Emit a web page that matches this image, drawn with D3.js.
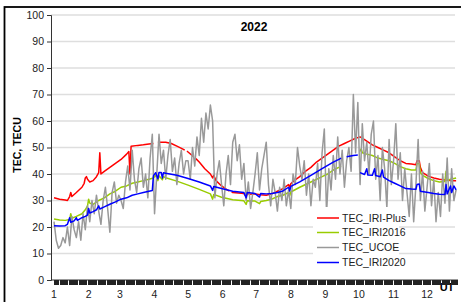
<!DOCTYPE html>
<html>
<head>
<meta charset="utf-8">
<script src="https://cdn.jsdelivr.net/npm/d3@7"></script>
<style>
body { margin: 0; background: #fff; }
svg { display: block; font-family: "Liberation Sans", Arial, sans-serif; }
</style>
</head>
<body>
<div id="chart"></div>
<script>
//Datos (dia del año, TECU)
const yTicks = [0, 10, 20, 30, 40, 50, 60, 70, 80, 90, 100];
const monthStarts = [0, 31, 59, 90, 120, 151, 181, 212, 243, 273, 304, 334];
const monthLabels = ['1', '2', '3', '4', '5', '6', '7', '8', '9', '10', '11', '12'];

const tecIriPlus = [[0,31],[5,30.5],[10,30.2],[12,30],[14,31.5],[15,33],[16,31.5],[20,33],[25,35],[27,36.5],[28,38.5],[29,39],[30,38],[32,37],[35,37.5],[38,39],[40,40.5],[41,48],[42,40],[45,41],[50,42.5],[55,44],[60,45.5],[65,47.5],[67,48.5],[68,40],[69,50.5],[75,50.8],[80,51],[85,51.3],[89,51.5],[90,null],[93,52],[100,52],[105,51.5],[110,50.5],[115,49.5],[117,49],[118,null],[119,48.6],[120,48.3],[125,46.5],[126,null],[127,45.8],[130,44.5],[135,42],[140,40],[142,38.5],[143,39.5],[145,37.5],[150,35.5],[155,34],[157,33.6],[158,null],[159,33.3],[160,33],[165,32.8],[170,32.6],[172,31.5],[173,32.6],[175,32.4],[180,32.5],[185,32.2],[190,32],[195,32.5],[200,33.5],[205,34.5],[210,36],[211,35],[212,36.3],[215,37.5],[220,39],[225,41],[230,42.5],[235,44.5],[240,46],[245,47.5],[250,49],[255,50.5],[260,51.5],[265,52.5],[270,53.5],[274,54],[278,53],[285,51],[290,50],[295,49],[300,48],[305,46.5],[310,45],[315,44],[320,43.8],[324,43.5],[325,45],[327,45],[328,42.5],[330,40.5],[335,39.2],[340,38.5],[345,38],[350,37.7],[355,37.5],[360,37.5]];

const tecIri2016 = [[0,23],[5,22.6],[10,22.5],[14,22.8],[15,25],[16,23.3],[20,24],[25,25],[28,26.5],[30,28],[31,30.5],[32,29],[35,28.5],[40,30],[45,31],[50,32.5],[55,33.5],[60,35],[65,35.5],[70,36.5],[75,37],[80,37.5],[85,38],[89,38.5],[91,39.5],[93,37.5],[94,39.3],[97,37.8],[98,39],[100,38.6],[110,37.3],[120,35.8],[130,34.2],[140,32.5],[142,30.5],[143,32.3],[150,31.2],[160,30.3],[170,29.9],[172,28.5],[173,29.9],[180,29.8],[184,28.8],[185,29.6],[190,30],[195,30.5],[200,31.5],[205,32],[210,33],[211,31.8],[212,33.2],[220,35],[230,37],[240,39],[245,40],[250,41.5],[255,42.5],[257,43],[258,null],[274,48.5],[275,49.5],[276,48],[280,47.5],[285,47],[290,46],[295,45.5],[300,45],[305,44],[310,42.8],[315,42],[320,41.5],[324,41.5],[325,44],[327,44],[328,40.5],[330,39.5],[335,38.3],[340,37.5],[345,37],[350,37.2],[351,41],[352,37.5],[355,38],[360,38.5]];

const tecIri2020 = [[0,20.5],[5,20.4],[10,20.5],[12,21],[14,23.5],[15,21.8],[18,22.3],[20,23.5],[21,22.5],[25,23.5],[28,24],[30,24.5],[31,27],[32,25.3],[35,25.8],[38,26.5],[40,28],[41,26.8],[45,27.6],[50,28.6],[55,29.5],[60,30.5],[65,31],[70,32],[75,32.5],[80,33],[85,33.5],[88,33.8],[89,39.3],[91,40.5],[93,38.2],[94,40.6],[96,40.6],[97,38.5],[98,40.5],[100,40.3],[110,39.5],[120,38.3],[130,37],[140,35.5],[142,33.8],[143,35.3],[150,34.5],[160,33.5],[170,33],[172,31],[173,33],[180,32.6],[184,31.3],[185,32.6],[190,32.5],[195,32.6],[200,33],[205,33.6],[210,35],[211,33.6],[212,35.3],[220,37],[230,39.5],[240,42],[250,44.5],[255,45.5],[257,46],[258,null],[262,46.5],[268,47],[272,47.2],[273,null],[274,40.5],[278,39.8],[280,42],[281,39.6],[285,39.5],[287,42],[288,39.4],[292,39],[294,41.5],[295,38.8],[300,37.5],[305,36.5],[310,35.5],[315,34.5],[320,34.3],[324,34.2],[325,36],[327,36.2],[328,33.5],[335,33],[340,32.6],[345,32.4],[350,32.3],[351,36],[352,32.5],[355,35.5],[356,33],[358,35.5],[360,34]];

//TEC_UCOE, un valor cada 2 dias desde el 1 de enero
const tecUcoe = [
  22,15,12,13,16,14,20,13,24,19,16,22,15,25,19,28,
  22,30,25,32,26,21,30,35,27,18,33,37,29,32,
  30,27,37,43,34,49,38,33,42,46,35,40,31,46,55,
  25,40,55,44,49,38,47,53,41,46,36,44,49,40,45,
  45,38,50,43,54,47,61,52,63,57,66,60,31,40,45,
  36,28,40,47,36,52,55,45,51,38,44,30,37,27,33,
  40,48,34,42,47,52,36,28,38,33,26,35,30,38,28,
  34,27,40,36,50,43,38,45,32,40,28,38,35,44,30,48,
  57,25,42,34,47,38,54,40,49,35,45,50,41,70,48,67,
  36,59,45,52,40,55,60,38,47,30,50,42,27,53,36,45,
  59,38,48,30,42,33,24,40,22,36,53,30,41,26,35,
  44,28,38,22,33,24,40,29,46,26,42,30,34
];

const COLOR_PLUS = '#ff0000',
  COLOR_2016 = '#99cc00',
  COLOR_UCOE = '#999999',
  COLOR_2020 = '#0000ff';

let width = 461, height = 302;

let svg = d3.select('#chart')
  .append('svg')
    .attr('width', width)
    .attr('height', height);

//Marco exterior
svg.append('rect')
  .attr('x', 4.5).attr('y', 7)
  .attr('width', 480).attr('height', 320)
  .attr('fill', '#fff')
  .attr('stroke', '#000')
  .attr('stroke-width', 1.8);

let x = d3.scaleLinear().domain([-2.7, 359]).range([51, 455]);
let y = d3.scaleLinear().domain([0, 100]).range([280, 15]);

//Rejilla
svg.append('g')
  .selectAll('line')
  .data(yTicks.slice(1))
  .enter()
  .append('line')
    .attr('x1', 51).attr('x2', 455)
    .attr('y1', d => y(d)).attr('y2', d => y(d))
    .attr('stroke', '#dedede')
    .attr('stroke-width', 1.5);

//Titulos
svg.append('text')
  .attr('x', 254).attr('y', 31)
  .attr('text-anchor', 'middle')
  .attr('font-size', 12).attr('font-weight', 'bold')
  .text('2022');

svg.append('text')
  .attr('transform', 'translate(21,145) rotate(-90)')
  .attr('text-anchor', 'middle')
  .attr('font-size', 10.5).attr('font-weight', 'bold')
  .text('TEC, TECU');

svg.append('text')
  .attr('x', 447).attr('y', 291)
  .attr('text-anchor', 'middle')
  .attr('font-size', 11).attr('font-weight', 'bold')
  .text('UT');

//Ejes
let yAxis = svg.append('g')
  .attr('transform', 'translate(51,0)')
  .call(d3.axisLeft(y).tickValues(yTicks).tickSize(4).tickPadding(3));
yAxis.selectAll('text').attr('font-size', 10.5).attr('fill', '#222').attr('font-family', null);
yAxis.selectAll('line, path').attr('stroke', '#333');

let xAxis = svg.append('g')
  .attr('transform', 'translate(0,280)')
  .call(d3.axisBottom(x).tickValues(d3.range(0, 362)).tickSize(5).tickSizeOuter(0).tickFormat(''));
xAxis.select('.domain').attr('d', 'M51,0H458').attr('stroke', '#333');
xAxis.selectAll('line').attr('stroke', '#222').attr('shape-rendering', 'crispEdges');

svg.append('g')
  .selectAll('text')
  .data(monthStarts)
  .enter()
  .append('text')
    .attr('x', d => x(d))
    .attr('y', 298)
    .attr('text-anchor', 'middle')
    .attr('font-size', 10.5)
    .attr('fill', '#222')
    .text((d, i) => monthLabels[i]);

//Series
let line = d3.line()
  .defined(d => d[1] != null)
  .x(d => x(d[0]))
  .y(d => y(d[1]));

let ucoe = tecUcoe.map((v, i) => [i * 2, v]);

let series = [
  { name: 'TEC_IRI-Plus', data: tecIriPlus, color: COLOR_PLUS },
  { name: 'TEC_IRI2016', data: tecIri2016, color: COLOR_2016 },
  { name: 'TEC_UCOE', data: ucoe, color: COLOR_UCOE },
  { name: 'TEC_IRI2020', data: tecIri2020, color: COLOR_2020 }
];

svg.append('g')
  .selectAll('path')
  .data(series)
  .enter()
  .append('path')
    .attr('d', d => line(d.data))
    .attr('fill', 'none')
    .attr('stroke', d => d.color)
    .attr('stroke-width', 1.5)
    .attr('stroke-linejoin', 'round');

//Leyenda
let legend = svg.append('g');
legend.append('rect')
  .attr('x', 313).attr('y', 207)
  .attr('width', 86).attr('height', 65)
  .attr('fill', '#fff');

let legendRows = [218, 232.5, 247.5, 262.5];
series.forEach(function(s, i) {
  legend.append('line')
    .attr('x1', 317).attr('x2', 339)
    .attr('y1', legendRows[i]).attr('y2', legendRows[i])
    .attr('stroke', s.color)
    .attr('stroke-width', 1.5);
  legend.append('text')
    .attr('x', 342).attr('y', legendRows[i])
    .attr('dy', '0.35em')
    .attr('font-size', 10.5)
    .attr('fill', '#222')
    .text(s.name);
});
</script>
</body>
</html>
